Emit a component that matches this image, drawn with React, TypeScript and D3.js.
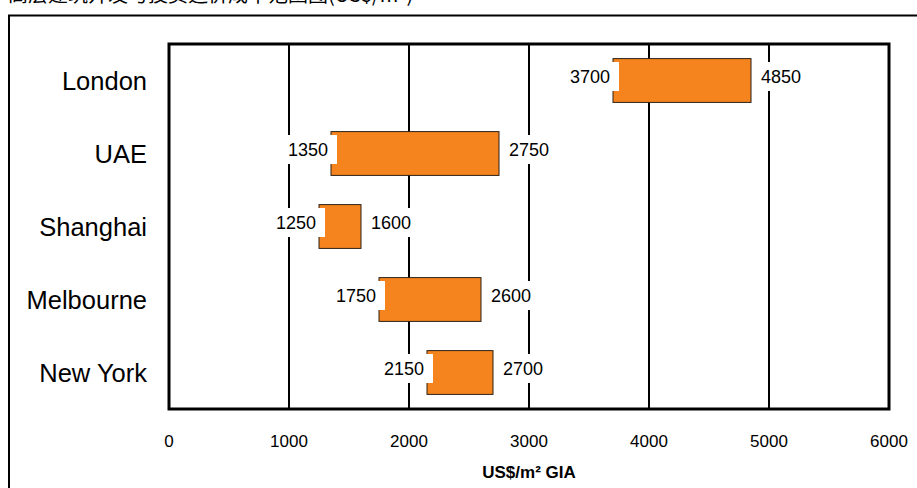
import React from "react";
import * as d3 from "d3";

// Construction cost ranges by city (US$ per m² GIA)
const cities = ["London", "UAE", "Shanghai", "Melbourne", "New York"];
const lowValues = [3700, 1350, 1250, 1750, 2150];
const highValues = [4850, 2750, 1600, 2600, 2700];
const xTicks = [0, 1000, 2000, 3000, 4000, 5000, 6000];
const titleText = "高层建筑开发与投资造价成本范围图(US$/m²)";
const axisTitle = "US$/m² GIA";

const W = 917;
const H = 488;
const plot = { left: 169, right: 889, top: 44, bottom: 409 };
const FONT = "Liberation Sans, Arial, sans-serif";

export default function App() {
  const x = d3.scaleLinear().domain([0, 6000]).range([plot.left, plot.right]);
  const y = d3
    .scaleBand<string>()
    .domain(cities)
    .range([plot.top, plot.bottom])
    .paddingInner(0.4)
    .paddingOuter(0.2);

  const labelFont = 18;
  const charW = labelFont * 0.556;

  return (
    <svg
      width={W}
      height={H}
      style={{ position: "absolute", left: 0, top: 0, background: "#fff" }}
      fontFamily={FONT}
    >
      {/* title, running off the top edge */}
      <text x={8} y={2} fontSize={20} fontFamily="Noto Sans CJK SC, sans-serif" fill="#000">
        {titleText}
      </text>

      {/* outer frame */}
      <rect x={9} y={15.5} width={W + 20} height={H + 20} fill="none" stroke="#000" strokeWidth={2} />

      {/* gridlines */}
      {xTicks.slice(1, -1).map((t) => (
        <line key={t} x1={x(t)} x2={x(t)} y1={plot.top} y2={plot.bottom} stroke="#000" strokeWidth={2} />
      ))}

      {/* bars */}
      {cities.map((c, i) => {
        const x0 = x(lowValues[i]);
        const x1 = x(highValues[i]);
        return (
          <rect
            key={c}
            x={x0}
            y={y(c)!}
            width={x1 - x0}
            height={y.bandwidth()}
            fill="#F5841F"
            stroke="#2b2016"
            strokeWidth={1}
          />
        );
      })}

      {/* value labels with white backgrounds */}
      {cities.map((c, i) => {
        const x0 = x(lowValues[i]);
        const x1 = x(highValues[i]);
        const cy = y(c)! + y.bandwidth() / 2 - 4;
        const lowStr = String(lowValues[i]);
        const highStr = String(highValues[i]);
        const lw = lowStr.length * charW;
        const hw = highStr.length * charW;
        return (
          <g key={c} fontSize={labelFont} fill="#000">
            <rect x={x0 - lw - 8} y={cy - 14.5} width={lw + 14} height={29} fill="#fff" />
            <text x={x0 - 3} y={cy} textAnchor="end" dominantBaseline="central">
              {lowStr}
            </text>
            <rect x={x1 + 6} y={cy - 14.5} width={hw + 10} height={29} fill="#fff" />
            <text x={x1 + 10} y={cy} textAnchor="start" dominantBaseline="central">
              {highStr}
            </text>
          </g>
        );
      })}

      {/* plot frame */}
      <rect
        x={plot.left}
        y={plot.top}
        width={plot.right - plot.left}
        height={plot.bottom - plot.top}
        fill="none"
        stroke="#000"
        strokeWidth={3}
      />

      {/* category labels */}
      {cities.map((c) => (
        <text
          key={c}
          x={147}
          y={y(c)! + y.bandwidth() / 2}
          textAnchor="end"
          dominantBaseline="central"
          fontSize={25.5}
          fill="#000"
        >
          {c}
        </text>
      ))}

      {/* x tick labels */}
      {xTicks.map((t) => (
        <text key={t} x={x(t)} y={447} textAnchor="middle" fontSize={17} fill="#000">
          {t}
        </text>
      ))}

      {/* axis title */}
      <text x={x(3000)} y={478} textAnchor="middle" fontSize={17} fontWeight="bold" fill="#000">
        {axisTitle}
      </text>
    </svg>
  );
}
